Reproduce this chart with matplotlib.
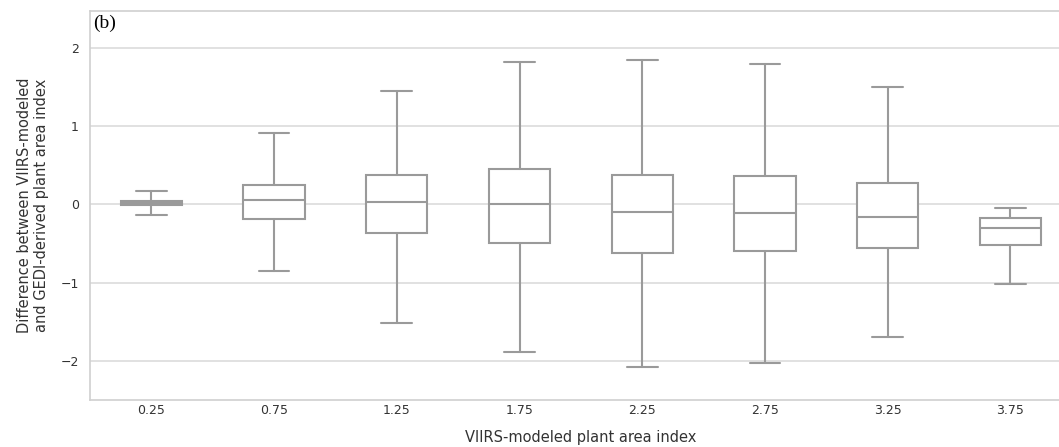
import numpy as np
import matplotlib
matplotlib.use("Agg")
import matplotlib.pyplot as plt
import seaborn as sns

# VIIRS-modeled PAI bins and the box statistics
bins = ["0.25", "0.75", "1.25", "1.75", "2.25", "2.75", "3.25", "3.75"]
whislo = [-0.13, -0.85, -1.51, -1.89, -2.08, -2.03, -1.69, -1.02]
q1 = [-0.01, -0.19, -0.37, -0.49, -0.62, -0.60, -0.56, -0.52]
med = [0.02, 0.06, 0.03, 0.00, -0.10, -0.11, -0.16, -0.30]
q3 = [0.05, 0.25, 0.38, 0.45, 0.37, 0.36, 0.27, -0.17]
whishi = [0.17, 0.91, 1.45, 1.82, 1.84, 1.79, 1.50, -0.05]

sns.set_style("whitegrid")

fig = plt.figure(figsize=(10.59, 4.47), dpi=100)
ax = fig.add_axes([0.085, 0.105, 1.012 - 0.085, 0.975 - 0.105])

stats = []
for i in range(len(bins)):
    stats.append(dict(whislo=whislo[i], q1=q1[i], med=med[i], q3=q3[i],
                      whishi=whishi[i], fliers=[], label=bins[i]))

grey = "#9a9a9a"
ax.bxp(stats, positions=np.arange(len(bins)), widths=0.5, patch_artist=True,
       showfliers=False,
       boxprops=dict(facecolor="white", edgecolor=grey, linewidth=1.5),
       medianprops=dict(color=grey, linewidth=1.5),
       whiskerprops=dict(color=grey, linewidth=1.5),
       capprops=dict(color=grey, linewidth=1.5))

ax.set_xlim(-0.5, 7.5)
ax.set_ylim(-2.5, 2.47)
ax.set_yticks([-2, -1, 0, 1, 2])
ax.set_yticklabels(["\u22122", "\u22121", "0", "1", "2"])
ax.grid(axis="x", visible=False)
ax.grid(axis="y", color="#dcdcdc", linewidth=1.2)
ax.set_axisbelow(True)
for s in ax.spines.values():
    s.set_color("#d0d0d0")
    s.set_linewidth(1.2)

ax.tick_params(labelsize=9, colors="#333333", length=0)
ax.tick_params(axis="x", pad=3)
ax.tick_params(axis="y", pad=8)
ax.set_xlabel("VIIRS-modeled plant area index", fontsize=10.5, color="#333333", labelpad=9)
ax.set_ylabel("Difference between VIIRS-modeled\nand GEDI-derived plant area index",
              fontsize=10.5, color="#333333", labelpad=8)

ax.text(0.003, 0.99, "(b)", transform=ax.transAxes, ha="left", va="top",
        fontsize=14, family="Liberation Serif", color="black")

fig.savefig("out.png", dpi=100)
